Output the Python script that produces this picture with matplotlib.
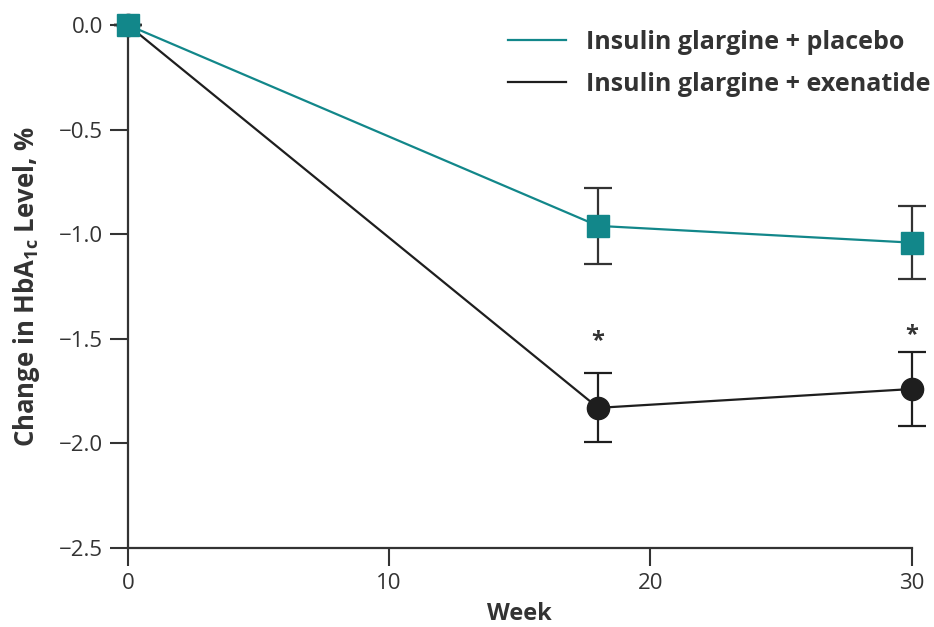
import matplotlib
matplotlib.use("Agg")
import matplotlib.pyplot as plt

weeks = [0, 18, 30]
placebo = [0.0, -0.96, -1.04]
placebo_err = [0.0, 0.18, 0.175]
exenatide = [0.0, -1.83, -1.74]
exenatide_err = [0.0, 0.165, 0.175]
star_weeks = [18, 30]
star_y = [-1.51, -1.48]
x_ticks = [0, 10, 20, 30]
y_ticks = [0.0, -0.5, -1.0, -1.5, -2.0, -2.5]
series_names = ["Insulin glargine + placebo", "Insulin glargine + exenatide"]

teal = "#12878a"
dark = "#1e1e1e"
grey = "#333333"
font = "Open Sans"

fig = plt.figure(figsize=(9.34, 6.27), dpi=100)
ax = fig.add_axes([0.137, 0.126, 0.839, 0.834])

ax.errorbar(weeks, exenatide, yerr=exenatide_err, color=dark, lw=1.6,
            marker="o", ms=16, mfc=dark, mec=dark, ecolor=dark,
            elinewidth=1.6, capsize=10, capthick=1.6, clip_on=False, zorder=2)
ax.errorbar(weeks, placebo, yerr=placebo_err, color=teal, lw=1.6,
            marker="s", ms=16, mfc=teal, mec=teal, ecolor=grey,
            elinewidth=1.6, capsize=10, capthick=1.6, clip_on=False, zorder=3)

for xw, yv in zip(star_weeks, star_y):
    ax.text(xw, yv, "*", ha="center", va="center", fontsize=17,
            fontweight="bold", color=grey, family=font)

ax.set_xlim(0, 30)
ax.set_ylim(-2.5, 0)
ax.set_xticks(x_ticks)
ax.set_yticks(y_ticks)
ax.set_xticklabels([str(v) for v in x_ticks])
ax.set_yticklabels([f"{v:.1f}".replace("-", "\u2212") for v in y_ticks])
for lbl in ax.get_xticklabels() + ax.get_yticklabels():
    lbl.set_fontfamily(font)
    lbl.set_fontsize(16)
    lbl.set_color(grey)
ax.tick_params(axis="both", direction="out", length=13, width=1.5, color=grey, pad=5)

for s in ["top", "right"]:
    ax.spines[s].set_visible(False)
for s in ["left", "bottom"]:
    ax.spines[s].set_linewidth(1.6)
    ax.spines[s].set_color(grey)

ax.set_xlabel("Week", fontsize=17, fontweight="bold", family=font, color=grey, labelpad=6)
ax.set_ylabel(r"Change in HbA$_{\mathregular{1c}}$ Level, %", fontsize=18.5, fontweight="bold",
              family=font, color=grey, labelpad=12)

h1, = ax.plot([], [], color=teal, lw=1.6)
h2, = ax.plot([], [], color=dark, lw=1.6)
leg = fig.legend([h1, h2], series_names, loc="upper left",
                 bbox_to_anchor=(508 / 934, 1 - 30 / 627),
                 frameon=False, handlelength=2.3, handletextpad=0.8, labelspacing=0.68,
                 borderpad=0, borderaxespad=0,
                 prop={"family": font, "weight": "bold", "size": 18})
for t in leg.get_texts():
    t.set_color(grey)

fig.savefig("out.png", dpi=100)
